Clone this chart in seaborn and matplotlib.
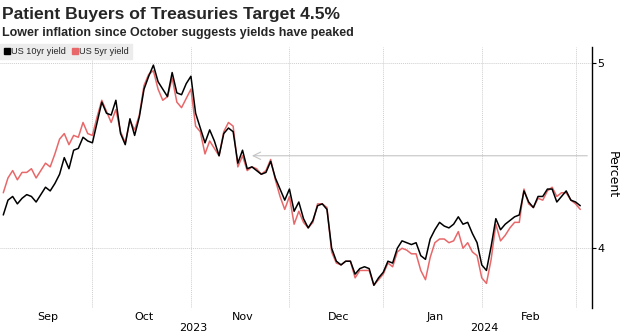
import numpy as np
import pandas as pd
import matplotlib
matplotlib.use("Agg")
import matplotlib.pyplot as plt
import seaborn as sns
from matplotlib.lines import Line2D
from matplotlib.transforms import blended_transform_factory

# ---------------- data ----------------
holidays = ["2023-09-04", "2023-10-09", "2023-11-23", "2023-12-25",
            "2024-01-01", "2024-01-15", "2024-02-19"]
dates = pd.bdate_range("2023-09-01", "2024-03-01", freq="C", holidays=holidays)

us10 = [
    # Sep
    4.18, 4.26, 4.28, 4.24, 4.27, 4.29, 4.28, 4.25, 4.29, 4.33,
    4.31, 4.35, 4.40, 4.49, 4.43, 4.53, 4.54, 4.60, 4.58, 4.57,
    # Oct
    4.68, 4.79, 4.73, 4.72, 4.80, 4.62, 4.56, 4.70, 4.61, 4.71,
    4.86, 4.93, 4.99, 4.90, 4.86, 4.82, 4.95, 4.84, 4.83, 4.89, 4.93,
    # Nov
    4.73, 4.65, 4.57, 4.64, 4.58, 4.50, 4.62, 4.65, 4.63, 4.46,
    4.53, 4.43, 4.44, 4.42, 4.40, 4.41, 4.47, 4.38, 4.32, 4.26, 4.32,
    # Dec
    4.20, 4.25, 4.16, 4.11, 4.15, 4.23, 4.24, 4.21, 4.00, 3.93,
    3.91, 3.93, 3.93, 3.86, 3.89, 3.90, 3.89, 3.80, 3.84, 3.87,
    # Jan
    3.93, 3.92, 4.00, 4.04, 4.03, 4.02, 4.03, 3.96, 3.94, 4.05,
    4.10, 4.14, 4.12, 4.11, 4.13, 4.17, 4.13, 4.14, 4.08, 4.03, 3.91,
    # Feb + Mar 1
    3.88, 4.01, 4.16, 4.10, 4.13, 4.15, 4.17, 4.18, 4.31, 4.25,
    4.22, 4.28, 4.28, 4.32, 4.32, 4.25, 4.28, 4.31, 4.26, 4.25, 4.23,
]
us5 = [
    # Sep
    4.30, 4.38, 4.42, 4.37, 4.41, 4.41, 4.43, 4.38, 4.42, 4.46,
    4.44, 4.51, 4.59, 4.62, 4.56, 4.61, 4.60, 4.68, 4.62, 4.61,
    # Oct
    4.71, 4.80, 4.74, 4.68, 4.75, 4.63, 4.57, 4.69, 4.64, 4.72,
    4.88, 4.94, 4.96, 4.86, 4.80, 4.82, 4.92, 4.79, 4.76, 4.81, 4.86,
    # Nov
    4.66, 4.63, 4.51, 4.58, 4.54, 4.50, 4.63, 4.68, 4.66, 4.44,
    4.50, 4.42, 4.44, 4.43, 4.40, 4.42, 4.48, 4.37, 4.28, 4.21, 4.28,
    # Dec
    4.13, 4.20, 4.14, 4.11, 4.14, 4.24, 4.24, 4.22, 3.98, 3.92,
    3.91, 3.93, 3.93, 3.84, 3.88, 3.88, 3.88, 3.80, 3.83, 3.86,
    # Jan
    3.92, 3.90, 3.98, 4.00, 3.99, 3.97, 3.97, 3.88, 3.83, 3.95,
    4.03, 4.05, 4.05, 4.03, 4.04, 4.09, 4.00, 4.03, 3.98, 3.96, 3.84,
    # Feb + Mar 1
    3.81, 3.94, 4.13, 4.04, 4.07, 4.11, 4.14, 4.14, 4.32, 4.24,
    4.22, 4.27, 4.26, 4.31, 4.33, 4.28, 4.30, 4.30, 4.26, 4.24, 4.21,
]
series_names = ["US 10yr yield", "US 5yr yield"]
target_level = 4.5
target_date = "2023-11-17"
yticks = [4, 5]

title = "Patient Buyers of Treasuries Target 4.5%"
subtitle = "Lower inflation since October suggests yields have peaked"

# ---------------- frame ----------------
df = pd.DataFrame({"date": dates, "US 10yr yield": us10, "US 5yr yield": us5})
df["idx"] = np.arange(len(df))
df["month"] = df["date"].dt.to_period("M")
df["year"] = df["date"].dt.year

sns.set_theme(style="white")
plt.rcParams["font.family"] = ["DejaVu Sans"]
narrow = ["Liberation Sans Narrow", "Liberation Sans", "DejaVu Sans"]

W, H = 624, 336
fig = plt.figure(figsize=(W / 100, H / 100), dpi=100)
ax_top, ax_bot, ax_right = 47, 308, 592
ax = fig.add_axes([0, (H - ax_bot) / H, ax_right / W, (ax_bot - ax_top) / H])

red = "#e8686a"
sns.lineplot(data=df, x="idx", y="US 5yr yield", color=red, lw=1.1, ax=ax)
sns.lineplot(data=df, x="idx", y="US 10yr yield", color="black", lw=1.1, ax=ax)

ax.set_xlim(-0.7, 125.5)
ax.set_ylim(3.677, 5.088)

# grid: month ends (vertical), ticks (horizontal)
grid_c = "#cfcfcf"
month_end = df.groupby("month")["idx"].max().values[:-1]
for i in month_end:
    ax.axvline(i, color=grid_c, lw=0.7, ls=(0, (1, 1)), zorder=0)
for v in yticks:
    ax.axhline(v, color=grid_c, lw=0.7, ls=(0, (1, 1)), zorder=0)

# target annotation arrow
tx = df.loc[df["date"] == pd.Timestamp(target_date), "idx"].iloc[0]
ax.annotate("", xy=(tx, target_level), xycoords="data",
            xytext=(0.992, target_level), textcoords=("axes fraction", "data"),
            arrowprops=dict(arrowstyle="->,head_length=0.45,head_width=0.22",
                            color="#c4c4c4", lw=0.8, shrinkA=0, shrinkB=0))

# spines
for s in ["left", "top", "bottom"]:
    ax.spines[s].set_visible(False)
ax.spines["right"].set_color("black")
ax.spines["right"].set_linewidth(1.0)

# y axis on right
ax.yaxis.tick_right()
ax.set_yticks(yticks)
ax.set_yticklabels([str(v) for v in yticks])
ax.tick_params(axis="y", direction="out", length=3, width=0.8, pad=1,
               labelsize=8, colors="black", right=True, left=False)
ax.set_ylabel("")
fig.text(612 / W, 1 - 175 / H, "Percent", rotation=270, ha="center",
         va="center", fontsize=9, color="black")

# x axis: month labels at centre of each month's trading days
mc = df.groupby("month")["idx"].mean()
mc = mc[[m.month != 3 for m in mc.index]]
ax.set_xticks(mc.values)
ax.set_xticklabels([m.strftime("%b") for m in mc.index])
ax.tick_params(axis="x", length=0, pad=3, labelsize=8, colors="black")
ax.set_xlabel("")
yc = df.groupby("year")["idx"].mean()
trans = blended_transform_factory(ax.transData, ax.transAxes)
for yr, pos in yc.items():
    ax.text(pos, -(328 - ax_bot) / (ax_bot - ax_top), str(yr), transform=trans,
            ha="center", va="center", fontsize=8, color="black")

# legend
handles = [Line2D([], [], marker="s", ls="None", markersize=5,
                  markerfacecolor=c, markeredgecolor=c)
           for c in ["black", red]]
leg = ax.legend(handles, series_names, loc="upper left",
                bbox_to_anchor=(0, 1 + 3 / (ax_bot - ax_top)), ncol=2,
                frameon=True, fancybox=False, facecolor="#ececec",
                edgecolor="#ececec", framealpha=1,
                prop={"family": narrow, "size": 6.6},
                handletextpad=0.0, columnspacing=0.5, borderpad=0.35,
                borderaxespad=0, handlelength=0.9)

# titles
fig.text(2 / W, 1 - 15 / H, title, ha="left", va="center", fontsize=12.6,
         fontweight="bold", family=narrow)
fig.text(2 / W, 1 - 33 / H, subtitle, ha="left", va="center", fontsize=9.0,
         fontweight="bold", family=narrow)

fig.savefig("out.png", dpi=100, facecolor="white")
